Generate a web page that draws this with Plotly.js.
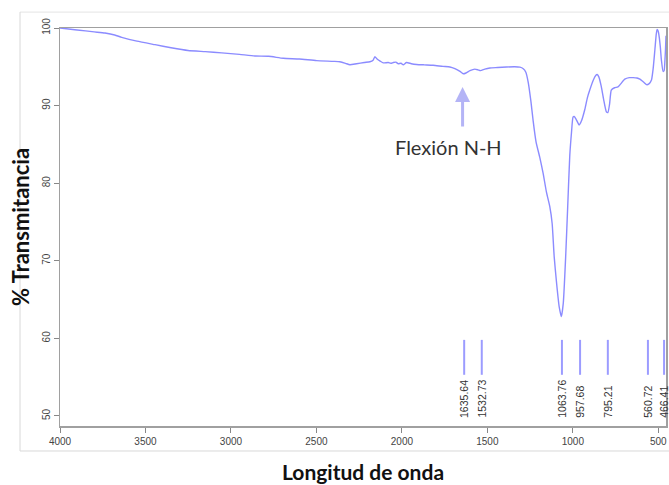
<!DOCTYPE html>
<html>
<head>
<meta charset="utf-8">
<script src="https://cdn.plot.ly/plotly-3.0.1.min.js"></script>
<style>html,body{margin:0;padding:0;background:#fff;}#chart{width:669px;height:485px;}</style>
</head>
<body>
<div id="chart"></div>
<script>
// Spectrum (wavenumber, % transmittance)
const wavenumber = [4000,3900,3800,3737,3680,3639,3550,3444,3350,3251,3150,3054,2950,2860,2780,2694,2600,2499,2400,2363,2330,2304,2265,2220,2187,2170,2158,2145,2125,2109,2080,2065,2050,2035,2022,2005,1992,1973,1945,1914,1870,1817,1760,1719,1690,1660,1641,1625,1602,1573,1555,1540,1515,1485,1440,1388,1340,1310,1290,1275,1261,1245,1232,1215,1193,1174,1154,1135,1121,1109,1095,1080,1067,1056,1042,1030,1018,1008,999,992,980,963,950,930,915,901,880,865,858,848,834,820,804,795,785,775,756,736,720,696,670,647,625,608,585,569,555,540,530,520,512,507,501,495,488,482,472,466,462,458,455];
const transmittance = [100,99.75,99.5,99.35,99.1,98.8,98.3,97.85,97.45,97.1,96.95,96.8,96.6,96.4,96.35,96.1,96.0,95.8,95.7,95.65,95.45,95.26,95.4,95.55,95.65,95.8,96.3,96.0,95.7,95.5,95.55,95.45,95.55,95.6,95.4,95.45,95.26,95.55,95.4,95.3,95.25,95.2,95.05,94.97,94.75,94.4,94.1,94.2,94.5,94.7,94.6,94.5,94.7,94.85,94.9,94.97,95.0,94.95,94.75,94.3,93.0,90.5,88.0,85.3,83.3,81.3,78.8,77.0,74.8,70.5,67.1,64.1,62.8,64.5,70.5,77.0,83.5,86.5,88.5,88.6,88.2,87.5,88.0,89.5,91.0,92.0,93.3,93.9,94.0,93.7,92.5,90.8,89.2,89.1,90.2,92.0,92.3,92.4,92.8,93.4,93.6,93.6,93.55,93.4,93.0,92.7,92.8,93.3,94.8,97.2,99.2,99.8,99.6,98.9,97.5,95.9,94.4,94.5,95.5,97.2,99.0];

// Peak markers
const peaks = [1635.64, 1532.73, 1063.76, 957.68, 795.21, 560.72, 466.41];
const peakLabels = ["1635.64", "1532.73", "1063.76", "957.68", "795.21", "560.72", "466.41"];

// Axis ticks
const xTicks = [4000, 3500, 3000, 2500, 2000, 1500, 1000, 500];
const yTicks = [50, 60, 70, 80, 90, 100];

const annotationLabel = "Flexión N-H";
const xTitle = "Longitud de onda";
const yTitle = "% Transmitancia";

const markTop = 59.8, markBottom = 55.3, labelBase = 49.5;

const peakX = [], peakY = [];
peaks.forEach(p => { peakX.push(p, p, null); peakY.push(markBottom, markTop, null); });

const traces = [
  {x: wavenumber, y: transmittance, type: 'scatter', mode: 'lines',
   line: {color: 'rgba(110,110,255,0.8)', width: 1.4, shape: 'spline', smoothing: 0.5},
   hoverinfo: 'skip', showlegend: false},
  {x: peakX, y: peakY, type: 'scatter', mode: 'lines',
   line: {color: '#9c9cff', width: 2}, hoverinfo: 'skip', showlegend: false}
];

const annotations = peaks.map((p, i) => ({
  x: p, y: labelBase, xref: 'x', yref: 'y', text: peakLabels[i],
  textangle: -90, showarrow: false, xanchor: 'center', yanchor: 'bottom',
  font: {family: 'Liberation Sans, Arial, sans-serif', size: 10.5, color: '#333'}
}));
annotations.push({
  x: 1725, y: 84.6, xref: 'x', yref: 'y', text: annotationLabel, showarrow: false,
  font: {family: 'Lato, Open Sans, sans-serif', size: 20, color: '#333'}
});
annotations.push({
  x: 1645, y: 92.4, xref: 'x', yref: 'y', text: '', showarrow: true,
  ax: 0, ay: 41, arrowhead: 2, arrowsize: 1, arrowwidth: 3, arrowcolor: '#b4b4f6', standoff: 0
});

const layout = {
  width: 669, height: 485,
  margin: {l: 60, r: 3, t: 28, b: 59},
  paper_bgcolor: '#fff', plot_bgcolor: '#fff',
  showlegend: false,
  xaxis: {
    range: [4000, 455], tickvals: xTicks, ticktext: xTicks.map(String),
    ticks: 'outside', ticklen: 5, tickcolor: '#888', tickwidth: 1,
    showline: true, linecolor: '#a0a0a0', linewidth: 1.5, mirror: true,
    showgrid: false, zeroline: false,
    tickfont: {family: 'Liberation Sans, Arial, sans-serif', size: 10, color: '#444'},
    title: {text: xTitle, standoff: 20, font: {family: 'Lato, Open Sans, sans-serif', size: 21, color: '#111', weight: 'bold'}}
  },
  yaxis: {
    range: [48.7, 100], tickvals: yTicks, ticktext: yTicks.map(String), tickangle: -90,
    ticks: 'outside', ticklen: 5, tickcolor: '#888', tickwidth: 1,
    showline: true, linecolor: '#a0a0a0', linewidth: 1.5, mirror: true,
    showgrid: false, zeroline: false,
    tickfont: {family: 'Liberation Sans, Arial, sans-serif', size: 10, color: '#444'},
    title: {text: yTitle, standoff: 5, font: {family: 'Lato, Open Sans, sans-serif', size: 22, color: '#111', weight: 'bold'}}
  },
  annotations: annotations,
  shapes: [
    {type: 'line', xref: 'paper', yref: 'paper', x0: -0.066, x1: 1.01, y0: 1.040, y1: 1.040, line: {color: '#e4e4e4', width: 1}},
    {type: 'line', xref: 'paper', yref: 'paper', x0: -0.066, x1: 1.01, y0: -0.0628, y1: -0.0628, line: {color: '#d8d8d8', width: 1}},
    {type: 'line', xref: 'paper', yref: 'paper', x0: -0.066, x1: -0.066, y0: -0.0628, y1: 1.040, line: {color: '#d8d8d8', width: 1}}
  ]
};

Plotly.newPlot('chart', traces, layout, {displayModeBar: false, staticPlot: true});
</script>
</body>
</html>
